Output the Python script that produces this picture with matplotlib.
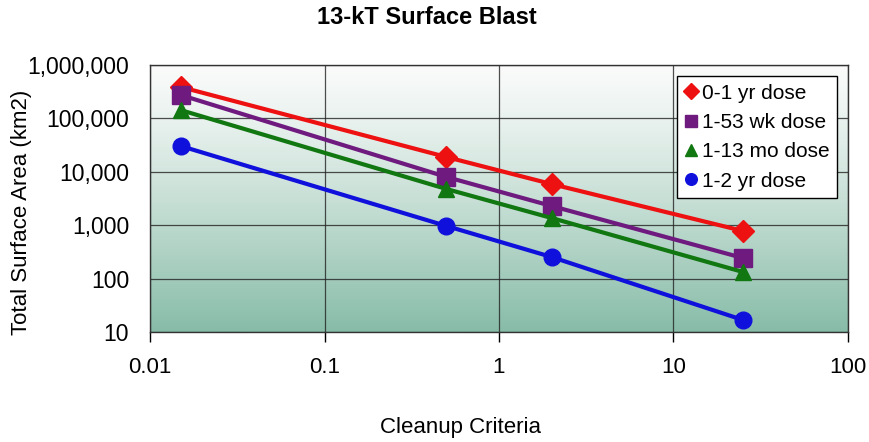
import numpy as np
import matplotlib
matplotlib.use("Agg")
import matplotlib.pyplot as plt
from matplotlib.ticker import FuncFormatter, FixedLocator, NullLocator

criteria = [0.015, 0.5, 2, 25]
series_names = ["0-1 yr dose", "1-53 wk dose", "1-13 mo dose", "1-2 yr dose"]
dose_0_1yr = [387000, 18900, 5900, 780]
dose_1_53wk = [274000, 8000, 2290, 243]
dose_1_13mo = [143000, 4760, 1365, 133]
dose_1_2yr = [30400, 966, 254, 16.8]

colors = ["#ee1111", "#6f1a7f", "#117711", "#1010dd"]
markers = ["D", "s", "^", "o"]
msizes = [11, 13, 12, 12]

plt.rcParams['font.family'] = ['Liberation Sans', 'DejaVu Sans']

fig = plt.figure(figsize=(8.7, 4.42), dpi=100)
ax = fig.add_axes([150/870, 1-332/442, 698/870, 267/442])

# gradient background
top = np.array([250, 251, 250]) / 255
bot = np.array([135, 188, 168]) / 255
t = np.linspace(0, 1, 256)[:, None] ** 1.2
grad = (top[None, :] * (1 - t) + bot[None, :] * t)[:, None, :]
ax.imshow(grad, extent=[0, 1, 0, 1], transform=ax.transAxes, aspect='auto', zorder=0)

all_series = [dose_0_1yr, dose_1_53wk, dose_1_13mo, dose_1_2yr]
for name, vals, c, m, ms in zip(series_names, all_series, colors, markers, msizes):
    ax.plot(criteria, vals, color=c, lw=3, marker=m, ms=ms, label=name, zorder=3)

ax.set_xscale('log')
ax.set_yscale('log')
ax.set_xlim(0.01, 100)
ax.set_ylim(10, 1e6)
ax.xaxis.set_major_locator(FixedLocator([0.01, 0.1, 1, 10, 100]))
ax.yaxis.set_major_locator(FixedLocator([10, 100, 1000, 1e4, 1e5, 1e6]))
ax.xaxis.set_minor_locator(NullLocator())
ax.yaxis.set_minor_locator(NullLocator())
ax.xaxis.set_major_formatter(FuncFormatter(lambda v, p: f"{v:g}"))
ax.yaxis.set_major_formatter(FuncFormatter(lambda v, p: f"{int(round(v)):,}"))
ax.tick_params(axis='x', direction='out', length=7, width=1, labelsize=16, pad=11)
ax.tick_params(axis='y', length=0, labelsize=16.5, pad=15)
ax.grid(True, which='major', color='#222222', lw=0.9, alpha=0.8)
ax.set_axisbelow(True)
for s in ax.spines.values():
    s.set_color('#333333')
    s.set_linewidth(1)

fig.text(427/870, 1-18/442, "13-kT Surface Blast", fontsize=17, fontweight='bold',
         ha='center', va='center')
fig.text(461/870, 1-428/442, "Cleanup Criteria", fontsize=16, ha='center', va='center')
fig.text(22/870, 1-212/442, "Total Surface Area (km2)", fontsize=16, rotation=90,
         ha='center', va='center')

leg = ax.legend(loc='upper right', bbox_to_anchor=(0.9845, 0.958), fontsize=15,
                frameon=True, fancybox=False, edgecolor='black', framealpha=1,
                handlelength=0.6, handletextpad=0.25, borderpad=0.35, labelspacing=0.5,
                borderaxespad=0, markerscale=0.7)
leg.get_frame().set_linewidth(1)
for h in leg.legend_handles:
    h.set_linestyle('none')

fig.savefig("out.png", dpi=100)
